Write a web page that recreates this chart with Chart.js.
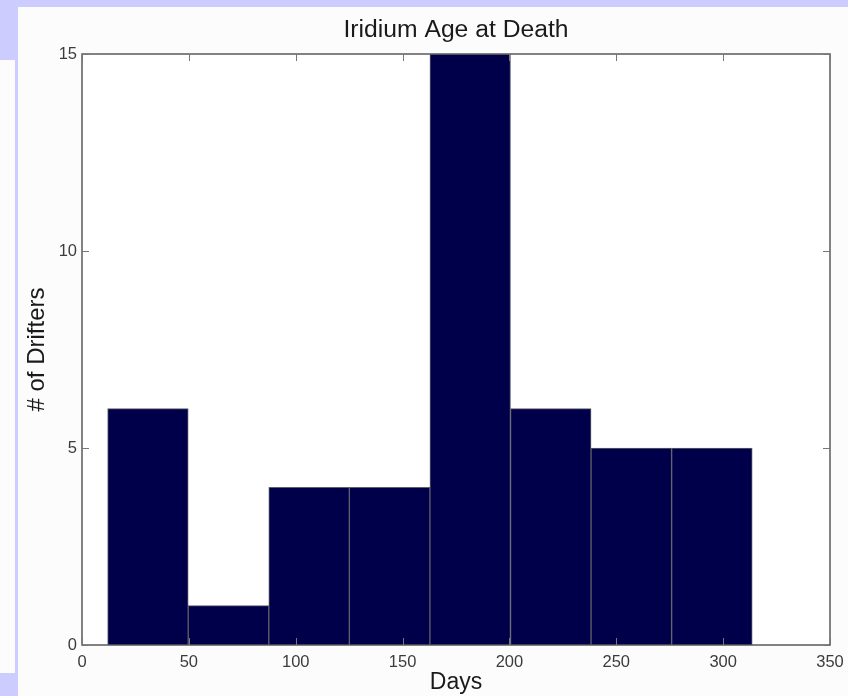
<!DOCTYPE html>
<html>
<head>
<meta charset="utf-8">
<script src="https://cdn.jsdelivr.net/npm/chart.js@4.4.1/dist/chart.umd.min.js"></script>
<style>
  html, body { margin: 0; padding: 0; }
  body { width: 848px; height: 696px; background: #ccccff; position: relative; overflow: hidden; }
  .panel { position: absolute; background: #fcfcfc; }
  #main { left: 18px; top: 7px; width: 830px; height: 689px; }
  #side { left: 0; top: 60px; width: 15px; height: 613px; }
  #wrap { position: absolute; left: 0; top: 0; width: 848px; height: 696px; }
</style>
</head>
<body>
<div class="panel" id="main"></div>
<div class="panel" id="side"></div>
<div id="wrap"><canvas id="js-hist"></canvas></div>
<script>
// histogram bins (days) and counts
const binEdges = [12, 49.7, 87.4, 125.1, 162.8, 200.5, 238.2, 275.9, 313.6];
const counts = [6, 1, 4, 4, 15, 6, 5, 5];
const xTicks = [0, 50, 100, 150, 200, 250, 300, 350];
const yTicks = [0, 5, 10, 15];

const FONT = "'Liberation Sans', Arial, Helvetica, sans-serif";

// matlab style box with inward ticks
const boxPlugin = {
    id: "box",
    beforeDraw(c) {
        const a = c.chartArea, g = c.ctx;
        g.save();
        g.fillStyle = "#ffffff";
        g.fillRect(a.left, a.top, a.right - a.left, a.bottom - a.top);
        g.restore();
    },
    afterDraw(c) {
        const a = c.chartArea, g = c.ctx, x = c.scales.x, y = c.scales.y, tl = 7;
        g.save();
        g.strokeStyle = "#5a5a5a";
        g.lineWidth = 1.5;
        g.strokeRect(a.left, a.top, a.right - a.left, a.bottom - a.top);
        g.lineWidth = 1;
        g.strokeStyle = "#777";
        g.beginPath();
        xTicks.forEach(v => {
            const px = Math.round(x.getPixelForValue(v)) + .5;
            g.moveTo(px, a.bottom); g.lineTo(px, a.bottom - tl);
            g.moveTo(px, a.top); g.lineTo(px, a.top + tl);
        });
        yTicks.forEach(v => {
            const py = Math.round(y.getPixelForValue(v)) + .5;
            g.moveTo(a.left, py); g.lineTo(a.left + tl, py);
            g.moveTo(a.right, py); g.lineTo(a.right - tl, py);
        });
        g.stroke();
        g.restore();
    }
};

const points = counts.map((n, i) => ({ x: (binEdges[i] + binEdges[i + 1]) / 2, y: n }));

new Chart(document.getElementById("js-hist"), {
    type: "bar",
    data: {
        datasets: [{
            data: points,
            backgroundColor: "#00004a",
            borderColor: "#5f5f66",
            borderWidth: 1,
            barPercentage: 1,
            categoryPercentage: 1,
            grouped: false
        }]
    },
    options: {
        responsive: true,
        maintainAspectRatio: false,
        animation: false,
        layout: { padding: { left: 0, top: 0, right: 18, bottom: 0 } },
        plugins: {
            legend: { display: false },
            tooltip: { enabled: false },
            title: { display: false }
        },
        scales: {
            x: {
                type: "linear",
                offset: false,
                min: 0, max: 350,
                afterFit: s => { s.height = 51; s.paddingLeft = 0; s.paddingRight = 0; },
                afterBuildTicks: s => { s.ticks = xTicks.map(v => ({ value: v })); },
                grid: { display: false, drawTicks: false, offset: false },
                border: { display: false },
                ticks: { color: "#3c3c3c", padding: 8, maxRotation: 0, font: { family: FONT, size: 16.5 } },
                title: {
                    display: true, text: "Days", color: "#1a1a1a",
                    font: { family: FONT, size: 23 },
                    padding: { top: 0, bottom: 0 }
                }
            },
            // top axis only carries the title, centred over the plot box
            top: {
                type: "linear",
                position: "top",
                offset: false,
                min: 0, max: 350,
                afterFit: s => { s.height = 54; s.paddingLeft = 0; s.paddingRight = 0; },
                grid: { display: false, drawTicks: false },
                border: { display: false },
                ticks: { display: false },
                title: {
                    display: true, text: "Iridium Age at Death", color: "#1a1a1a",
                    font: { family: FONT, size: 24.7 },
                    padding: { top: 15, bottom: 0 }
                }
            },
            y: {
                min: 0, max: 15,
                afterFit: s => { s.width = 82; s.paddingTop = 0; s.paddingBottom = 0; },
                afterBuildTicks: s => { s.ticks = yTicks.map(v => ({ value: v })); },
                grid: { display: false, drawTicks: false },
                border: { display: false },
                ticks: { color: "#3c3c3c", padding: 5, font: { family: FONT, size: 16.5 } },
                title: {
                    display: true, text: "# of Drifters", color: "#1a1a1a",
                    font: { family: FONT, size: 24 },
                    padding: { top: 23, bottom: 0 }
                }
            }
        }
    },
    plugins: [boxPlugin]
});
</script>
</body>
</html>
